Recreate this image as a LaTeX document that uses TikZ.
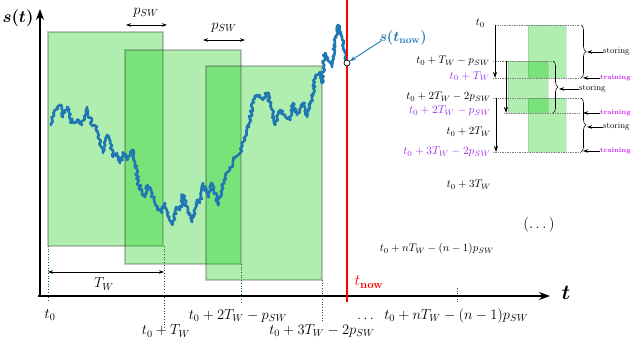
\RequirePackage{fix-cm}
\documentclass[tikz,border=0pt]{standalone}
\usepackage{amsmath,amssymb}
\usetikzlibrary{arrows.meta,decorations.pathreplacing,decorations.pathmorphing}
\definecolor{cblue}{RGB}{31,119,180}
\definecolor{gfill}{RGB}{0,200,0}
\definecolor{tickgreen}{RGB}{0,110,0}
\definecolor{purp}{RGB}{160,50,235}
\definecolor{trainc}{RGB}{205,40,235}
\begin{document}
\begin{tikzpicture}[x=1pt,y=-1pt,
  win/.style={fill=gfill, fill opacity=0.31, draw=black, draw opacity=0.22, line width=1.3pt},
  winr/.style={fill=gfill, fill opacity=0.31, draw=black, draw opacity=0.1, line width=0.8pt},
  tickline/.style={tickgreen, dotted, line width=0.7pt},
  hdot/.style={gray, densely dotted, line width=0.7pt},
  big/.style={font=\fontsize{14.5}{16}\selectfont, inner sep=0pt},
  sm/.style={font=\fontsize{11}{13}\selectfont, inner sep=0pt},
  smp/.style={font=\fontsize{11.4}{13}\selectfont, inner sep=0pt, text=purp},
  note/.style={font=\fontsize{8.5}{10}\selectfont, inner sep=0pt},
  tnote/.style={font=\fontsize{6.8}{8}\selectfont\bfseries, inner sep=0pt, text=trainc},
  dimarrow/.style={{Stealth[length=5pt,width=3.5pt]}-{Stealth[length=5pt,width=3.5pt]}, line width=0.6pt},
  darrow/.style={-{Stealth[length=6pt,width=4pt]}, line width=0.8pt},
  larrow/.style={-{Stealth[length=5pt,width=3.5pt]}, line width=0.7pt},
  axis/.style={-{Stealth[length=11pt,width=8pt]}, line width=1.6pt}]
\useasboundingbox (0,0) rectangle (633,339);

% sliding windows
\draw[win] (48,32) rectangle (163,246);
\draw[win] (125,50) rectangle (241,264);
\draw[win] (206,66) rectangle (322,280);

% tick lines
\draw[tickline] (48,246) -- (48,302);
\draw[tickline] (164,246) -- (164,328);
\draw[tickline] (241,264) -- (241,302);
\draw[tickline] (322,280) -- (322,323);
\draw[tickline] (457,288) -- (457,302);

% axes
\coordinate (xs) at (38,296);
\coordinate (xe) at (550,296);
\coordinate (ys) at (40,297);
\coordinate (ye) at (40,9);
\draw[axis] (xs) -- (xe);
\draw[axis] (ys) -- (ye);
\node (st) at (18,18) {\fontsize{17}{19}\selectfont$\boldsymbol{s(t)}$};
\node (tax) at (566,293) {\fontsize{21}{23}\selectfont$\boldsymbol{t}$};

% signal
\pgfmathsetseed{7}
\draw[cblue, line width=2.6pt, line join=round, line cap=round,
  decorate, decoration={random steps, segment length=1.6pt, amplitude=1.6pt}]
 (51,125) -- (55,110) -- (60,105) -- (63,117) -- (67,107) -- (72,123) -- (77,120) -- (82,125)
 -- (87,107) -- (92,125) -- (97,127) -- (100,145) -- (103,153) -- (107,135) -- (110,143)
 -- (113,157) -- (117,153) -- (120,163) -- (123,153) -- (127,160) -- (132,150) -- (135,163)
 -- (138,182) -- (142,192) -- (145,197) -- (148,185) -- (153,197) -- (157,207) -- (162,213)
 -- (165,203) -- (168,217) -- (172,225) -- (177,207) -- (180,210) -- (183,195) -- (188,210)
 -- (192,222) -- (197,200) -- (200,203) -- (203,183) -- (208,197) -- (212,183) -- (215,193)
 -- (218,205) -- (222,187) -- (225,177) -- (230,170) -- (235,158) -- (240,153) -- (243,142)
 -- (247,130) -- (250,120) -- (253,100) -- (257,95) -- (263,100) -- (267,93) -- (272,110)
 -- (275,125) -- (280,110) -- (285,115) -- (290,120) -- (293,103) -- (297,115) -- (303,103)
 -- (307,117) -- (312,97) -- (315,77) -- (320,72) -- (322,83) -- (325,53) -- (328,60)
 -- (332,67) -- (335,43) -- (338,25) -- (342,37) -- (343,43) -- (347,63);

% now line
\coordinate (ntop) at (347,0);
\coordinate (nbot) at (347,302);
\draw[red, line width=1.8pt] (ntop) -- (nbot);
\node[red] (tnow) at (369,282) {\fontsize{16}{18}\selectfont$t_{\mathbf{now}}$};
\node[draw=black, fill=white, circle, inner sep=0pt, minimum size=6pt, line width=0.7pt] (pt) at (347,63) {};
\node[cblue] (snow) at (403,38) {\fontsize{14.5}{16}\selectfont$\boldsymbol{s(t_{\mathbf{now}})}$};
\coordinate (sa) at (381,41);
\draw[cblue, line width=0.9pt, -{Stealth[length=6pt,width=4pt]}] (sa) -- (pt);

% p_SW dimensions
\coordinate (p1a) at (126,25); \coordinate (p1b) at (167,25);
\draw[dimarrow] (p1a) -- (p1b);
\node[big] (p1) at (146,13) {$p_{SW}$};
\coordinate (p2a) at (203,40); \coordinate (p2b) at (245,40);
\draw[dimarrow] (p2a) -- (p2b);
\node[big] (p2) at (224,28) {$p_{SW}$};
\coordinate (twa) at (48,272); \coordinate (twb) at (164,272);
\draw[dimarrow] (twa) -- (twb);
\node[big] (tw) at (104,284) {$T_W$};

% bottom labels
\node[big] (b0) at (50,315) {$t_0$};
\node[big] (b1) at (166,331) {$t_0+T_W$};
\node[big] (b2) at (238,316) {$t_0+2T_W-p_{SW}$};
\node[big] (b3) at (322,331) {$t_0+3T_W-2p_{SW}$};
\node[big, anchor=west] (bn) at (357,316) {$\dots\;\; t_0+nT_W-(n-1)p_{SW}$};

% middle-right labels
\node[sm] (m3) at (469,185) {$t_0+3T_W$};
\node (dots) at (539,225) {\fontsize{15}{17}\selectfont$(\dots)$};
\node[sm] (mn) at (437,249) {$t_0+nT_W-(n-1)p_{SW}$};

% right panel windows
\draw[winr] (528,25) rectangle (566,78);
\draw[winr] (508,61) rectangle (548,113);
\draw[winr] (528,98) rectangle (566,152);

% right panel dotted levels
\draw[hdot] (495,25) -- (580,25);
\draw[hdot] (493,61) -- (553,61);
\draw[hdot] (493,78) -- (580,78);
\draw[hdot] (493,98) -- (580,98);
\draw[hdot] (504,113) -- (580,113);
\draw[hdot] (493,152) -- (580,152);

% right panel labels
\node[sm, anchor=east] (r0) at (485,23) {$t_0$};
\node[sm, anchor=east] (r1) at (490,61) {$t_0+T_W-p_{SW}$};
\node[smp, anchor=east] (r2) at (490,76) {$t_0+T_W$};
\node[sm, anchor=east] (r3) at (491,97) {$t_0+2T_W-2p_{SW}$};
\node[smp, anchor=east] (r4) at (491,111) {$t_0+2T_W-p_{SW}$};
\node[sm, anchor=east] (r5) at (491,132) {$t_0+2T_W$};
\node[smp, anchor=east] (r6) at (491,152) {$t_0+3T_W-2p_{SW}$};

% right panel vertical arrows
\coordinate (va1) at (495,25); \coordinate (vb1) at (495,78);
\coordinate (va2) at (506,61); \coordinate (vb2) at (506,113);
\coordinate (va3) at (496,98); \coordinate (vb3) at (496,152);
\draw[darrow] (va1) -- (vb1);
\draw[darrow] (va2) -- (vb2);
\draw[darrow] (va3) -- (vb3);

% braces
\draw[line width=0.6pt, decorate, decoration={brace, amplitude=5pt}] (581,25) -- (581,78);
\draw[line width=0.6pt, decorate, decoration={brace, amplitude=5pt}] (553,61) -- (553,113);
\draw[line width=0.6pt, decorate, decoration={brace, amplitude=5pt}] (581,98) -- (581,152);

% storing / training notes
\node[note, anchor=west] (s1) at (603,52) {storing};
\node[tnote, anchor=west] (t1) at (600,78) {training};
\node[note, anchor=west] (s2) at (579,89) {storing};
\node[tnote, anchor=west] (t2) at (600,113) {training};
\node[note, anchor=west] (s3) at (603,127) {storing};
\node[tnote, anchor=west] (t3) at (600,151) {training};
\coordinate (s1e) at (587,52); \coordinate (t1e) at (583,78);
\coordinate (s2e) at (559,89); \coordinate (t2e) at (583,113);
\coordinate (s3e) at (587,127); \coordinate (t3e) at (583,151);
\draw[larrow] (s1.west) -- (s1e);
\draw[larrow] (t1.west) -- (t1e);
\draw[larrow] (s2.west) -- (s2e);
\draw[larrow] (t2.west) -- (t2e);
\draw[larrow] (s3.west) -- (s3e);
\draw[larrow] (t3.west) -- (t3e);
\end{tikzpicture}
\end{document}
